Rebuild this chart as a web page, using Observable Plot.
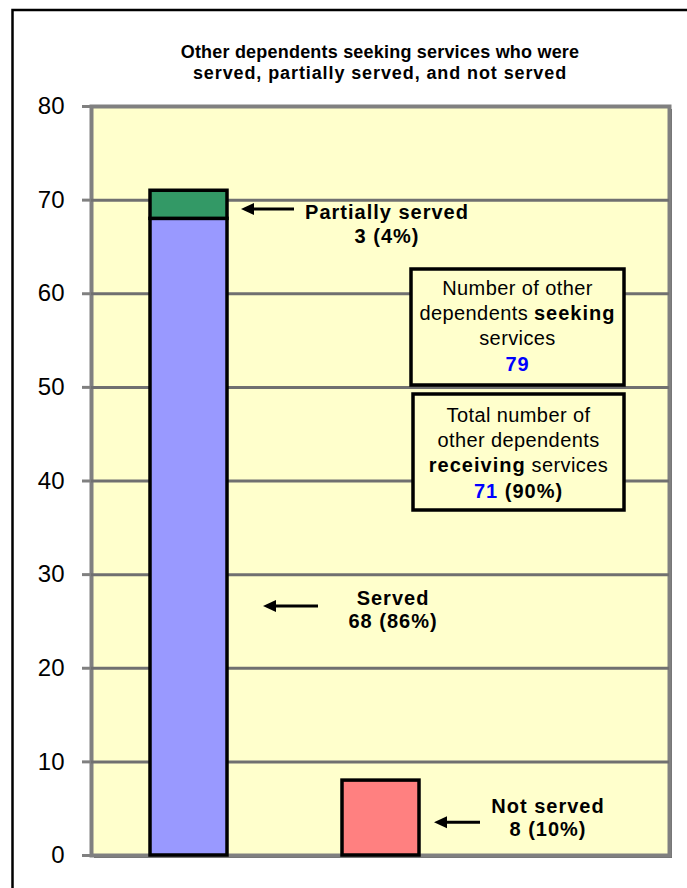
<!DOCTYPE html>
<html>
<head>
<meta charset="utf-8">
<script src="https://cdn.jsdelivr.net/npm/d3@7"></script>
<script src="https://cdn.jsdelivr.net/npm/@observablehq/plot@0.6"></script>
<style>
  html, body { margin: 0; padding: 0; background: #ffffff; }
  #chart svg { display: block; }
</style>
</head>
<body>
<div id="chart"></div>
<script>
// ---------- data ----------
const categories = ["Served", "Not served", ""];            // third slot is empty (holds the summary boxes)
const barCategory = ["Served", "Served", "Not served"];
const barSeries = ["Served", "Partially served", "Not served"];
const barValues = [68, 3, 8];
const seekingTotal = 79;
const yTicks = [0, 10, 20, 30, 40, 50, 60, 70, 80];
const gridValues = [10, 20, 30, 40, 50, 60, 70];
const seriesColors = ["#9999FF", "#339966", "#FF8080"];
const titleLines = [
  "Other dependents seeking services who were",
  "served, partially served, and not served"
];

const table = barValues.map((v, i) => ({cat: barCategory[i], series: barSeries[i], value: v}));
const valueOf = s => barValues[barSeries.indexOf(s)];
const pct = v => Math.round(100 * v / seekingTotal) + "%";
const receiving = valueOf("Served") + valueOf("Partially served");

const FONT = "'Liberation Sans', Arial, Helvetica, sans-serif";

// background decorations: outer border + plot-area shadow
function background(index, scales, values, dims) {
  const g = d3.create("svg:g");
  const {width, height, marginLeft, marginRight, marginTop, marginBottom} = dims;
  g.append("path")
    .attr("d", `M12.5,${height + 5}V10H${width + 5}`)
    .attr("fill", "none").attr("stroke", "#000").attr("stroke-width", 2.5);
  g.append("rect")
    .attr("x", marginLeft + 3).attr("y", marginTop + 3)
    .attr("width", width - marginLeft - marginRight)
    .attr("height", height - marginTop - marginBottom)
    .attr("fill", "#6e6e6e");
  return g.node();
}

// foreground annotations: title, arrows with labels, summary boxes
function foreground(index, scales, values, dims) {
  const {x, y} = scales;
  const bw = x.bandwidth ? x.bandwidth() : 77;
  const {width, marginLeft, marginRight} = dims;
  const g = d3.create("svg:g").attr("font-family", FONT);

  // title
  const cx = (marginLeft + width - marginRight) / 2;
  const title = g.append("text").attr("text-anchor", "middle").attr("font-weight", "bold")
    .attr("font-size", 18).attr("letter-spacing", 0.4).attr("fill", "#000");
  title.append("tspan").attr("x", cx).attr("y", 58).attr("letter-spacing", 0.2).text(titleLines[0]);
  title.append("tspan").attr("x", cx).attr("y", 79).attr("letter-spacing", 0.9).text(titleLines[1]);

  // arrows + labels
  const arrows = [
    {cat: "Served", at: 69, gap: 12, len: 53, tx: 158, lines: ["Partially served", `${valueOf("Partially served")} (${pct(valueOf("Partially served"))})`], dy: [10, 34]},
    {cat: "Served", at: 26.6, gap: 34, len: 55, tx: 164, lines: ["Served", `${valueOf("Served")} (${pct(valueOf("Served"))})`], dy: [-1, 22]},
    {cat: "Not served", at: 3.5, gap: 13, len: 46, tx: 127, lines: ["Not served", `${valueOf("Not served")} (${pct(valueOf("Not served"))})`], dy: [-9, 14]}
  ];
  for (const a of arrows) {
    const right = x(a.cat) + bw + 2;
    const tip = right + a.gap;
    const tail = tip + a.len;
    const yy = y(a.at);
    g.append("line").attr("x1", tip + 8).attr("x2", tail).attr("y1", yy).attr("y2", yy)
      .attr("stroke", "#000").attr("stroke-width", 3);
    g.append("path").attr("d", `M${tip},${yy}L${tip + 13},${yy - 6}L${tip + 13},${yy + 6}Z`).attr("fill", "#000");
    const t = g.append("text").attr("text-anchor", "middle").attr("font-weight", "bold")
      .attr("font-size", 20).attr("letter-spacing", 1).attr("fill", "#000");
    a.lines.forEach((s, i) => t.append("tspan").attr("x", right + a.tx).attr("y", yy + a.dy[i]).text(s));
  }

  // summary boxes
  const boxes = [
    {x0: 411, x1: 624, y0: 269, y1: 385, base: 295,
     lines: [[["Number of other", "n"]], [["dependents ", "n"], ["seeking", "b"]], [["services", "n"]], [[String(seekingTotal), "bb"]]]},
    {x0: 413, x1: 624, y0: 394, y1: 510, base: 422,
     lines: [[["Total number of", "n"]], [["other dependents", "n"]], [["receiving", "b"], [" services", "n"]],
             [[String(receiving), "bb"], [` (${pct(receiving)})`, "b"]]]}
  ];
  for (const b of boxes) {
    g.append("rect").attr("x", b.x0).attr("y", b.y0).attr("width", b.x1 - b.x0).attr("height", b.y1 - b.y0)
      .attr("fill", "#FFFFCC").attr("stroke", "#000").attr("stroke-width", 3.5);
    const mx = (b.x0 + b.x1) / 2;
    b.lines.forEach((parts, i) => {
      const t = g.append("text").attr("text-anchor", "middle").attr("x", mx).attr("y", b.base + i * 25.2)
        .attr("font-size", 20).attr("letter-spacing", 0.4).attr("fill", "#000");
      for (const [s, st] of parts) {
        const sp = t.append("tspan").text(s);
        if (st === "b" || st === "bb") sp.attr("font-weight", "bold").attr("letter-spacing", 1);
        if (st === "bb") sp.attr("fill", "#0000FF");
      }
    });
  }
  return g.node();
}

const chart = Plot.plot({
  width: 687,
  height: 888,
  marginLeft: 91,
  marginRight: 18,
  marginTop: 106,
  marginBottom: 33,
  style: {fontFamily: FONT, background: "#ffffff", color: "#000"},
  x: {domain: categories, paddingInner: 0.6, paddingOuter: 0.3, axis: null},
  y: {domain: [0, 80]},
  color: {domain: barSeries, range: seriesColors},
  marks: [
    background,
    Plot.frame({fill: "#FFFFCC", stroke: "#808080", strokeWidth: 4}),
    Plot.ruleY(gridValues, {stroke: "#707070", strokeWidth: 3}),
    Plot.axisY({ticks: yTicks, tickSize: 9, tickPadding: 18, fontSize: 24, stroke: "#808080", strokeWidth: 3, label: null, tickFormat: d => String(d)}),
    Plot.barY(table, {x: "cat", y: "value", fill: "series", stroke: "#000", strokeWidth: 3.5}),
    foreground
  ]
});
document.getElementById("chart").appendChild(chart);
</script>
</body>
</html>
